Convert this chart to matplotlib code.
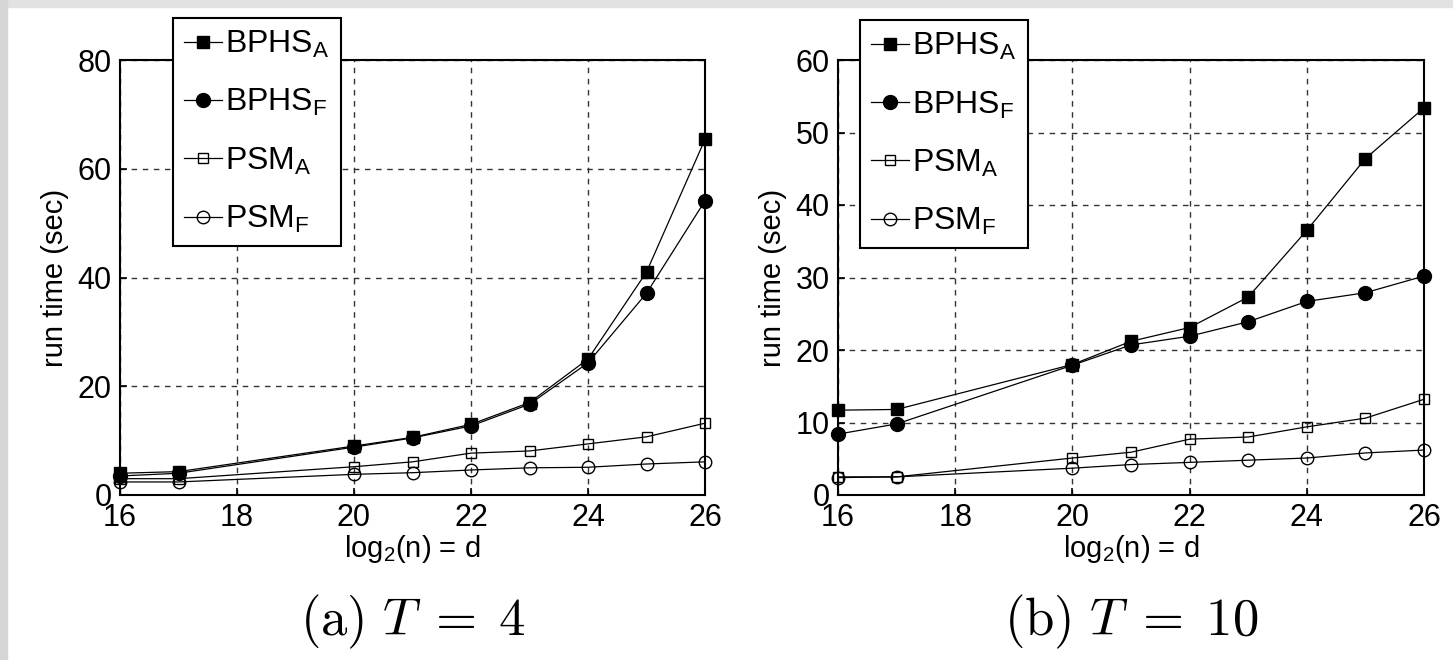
import matplotlib
matplotlib.use("Agg")
import matplotlib.pyplot as plt
from matplotlib.patches import Rectangle

plt.rcParams['font.family'] = ['Liberation Sans', 'DejaVu Sans']
plt.rcParams['mathtext.fontset'] = 'custom'
plt.rcParams['mathtext.rm'] = 'Liberation Sans'
plt.rcParams['mathtext.it'] = 'Liberation Sans'

# data
d = [16, 17, 20, 21, 22, 23, 24, 25, 26]
labels = [r'BPHS$_\mathrm{A}$', r'BPHS$_\mathrm{F}$', r'PSM$_\mathrm{A}$', r'PSM$_\mathrm{F}$']

t4_bphs_a = [4.0, 4.3, 9.0, 10.6, 13.0, 17.0, 25.0, 41.0, 65.4]
t4_bphs_f = [3.5, 4.0, 8.8, 10.5, 12.7, 16.7, 24.3, 37.1, 54.1]
t4_psm_a = [3.0, 3.0, 5.2, 6.1, 7.7, 8.1, 9.4, 10.7, 13.2]
t4_psm_f = [2.4, 2.4, 3.8, 4.1, 4.6, 5.0, 5.1, 5.7, 6.1]

t10_bphs_a = [11.7, 11.8, 18.0, 21.2, 23.1, 27.3, 36.5, 46.4, 53.4]
t10_bphs_f = [8.4, 9.8, 17.9, 20.7, 21.9, 23.9, 26.7, 27.9, 30.2]
t10_psm_a = [2.5, 2.5, 5.1, 5.9, 7.7, 8.0, 9.4, 10.6, 13.2]
t10_psm_f = [2.4, 2.5, 3.7, 4.2, 4.5, 4.8, 5.1, 5.8, 6.2]

panels = [
    dict(series=[t4_bphs_a, t4_bphs_f, t4_psm_a, t4_psm_f], ymax=80, yticks=[0, 20, 40, 60, 80],
         caption=r'$\mathrm{(a)}\ T\;=\;4$', pos=[120, 705], leg=(0.09, 1.097)),
    dict(series=[t10_bphs_a, t10_bphs_f, t10_psm_a, t10_psm_f], ymax=60, yticks=[0, 10, 20, 30, 40, 50, 60],
         caption=r'$\mathrm{(b)}\ T\;=\;10$', pos=[838, 1424], leg=(0.037, 1.092)),
]
styles = [
    dict(marker='s', markersize=8.5, markerfacecolor='k'),
    dict(marker='o', markersize=10, markerfacecolor='k'),
    dict(marker='s', markersize=7, markerfacecolor='none'),
    dict(marker='o', markersize=9, markerfacecolor='none'),
]

W, H = 1453, 660
fig = plt.figure(figsize=(W / 100, H / 100), dpi=100)
fig.patches.append(Rectangle((0, 1 - 7 / H), 1, 7 / H, transform=fig.transFigure, color='#e2e2e2', zorder=-1))
fig.patches.append(Rectangle((0, 0), 7 / W, 1, transform=fig.transFigure, color='#d6d6d6', zorder=-1))

for p in panels:
    x0, x1 = p['pos']
    ax = fig.add_axes([x0 / W, (H - 495) / H, (x1 - x0) / W, 435 / H])
    for s, st, lab in zip(p['series'], styles, labels):
        ax.plot(d, s, color='k', linewidth=0.9, markeredgecolor='k', markeredgewidth=1.0,
                label=lab, clip_on=False, zorder=3, **st)
    ax.set_xlim(16, 26)
    ax.set_ylim(0, p['ymax'])
    ax.set_xticks([16, 18, 20, 22, 24, 26])
    ax.set_yticks(p['yticks'])
    ax.tick_params(direction='in', length=5, width=1.2, labelsize=22, pad=6)
    for sp in ax.spines.values():
        sp.set_linewidth(1.5)
    ax.grid(True, color='#333333', linestyle=(0, (4, 4)), linewidth=1.0)
    ax.set_xlabel(r'log$_2$(n) = d', fontsize=21, labelpad=0)
    ax.set_ylabel('run time (sec)', fontsize=21, labelpad=6)
    leg = ax.legend(loc='upper left', bbox_to_anchor=p['leg'], fontsize=23, fancybox=False,
                    framealpha=1, edgecolor='k', handlelength=1.2, handletextpad=0.1,
                    labelspacing=0.85, borderpad=0.35, borderaxespad=0)
    leg.get_frame().set_linewidth(1.5)
    leg.set_zorder(5)
    fig.text((x0 + x1) / 2 / W, 1 - 622 / H, p['caption'], ha='center', va='center',
             fontsize=38, math_fontfamily='cm')

plt.savefig('out.png', dpi=100)
